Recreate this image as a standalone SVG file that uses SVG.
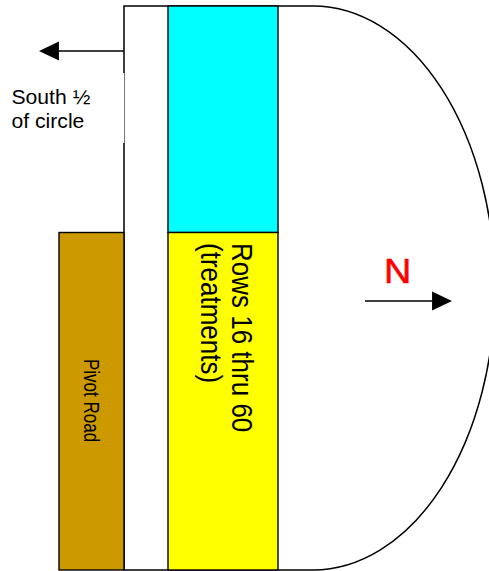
<svg xmlns="http://www.w3.org/2000/svg" width="489" height="571" viewBox="0 0 489 571">
<style>
.box{stroke:#000;stroke-width:1.4}
.ln{stroke:#000;stroke-width:1.5;fill:none}
.t{font-family:"Liberation Sans",Arial,sans-serif;fill:#000}
</style>
<defs>
<marker id="ah" markerWidth="20" markerHeight="20" refX="1" refY="10" orient="auto" markerUnits="userSpaceOnUse" viewBox="0 0 21 20">
<path d="M0,0 L21,10 L0,20 Z" fill="#000"/>
</marker>
</defs>
<rect width="489" height="571" fill="#fff"/>
<g id="half-circle">
<path class="ln" d="M124,6 H313 A182,282 0 0 1 313,570 H124 Z" fill="#fff"/>
</g>
<g id="rows-1-15">
<rect class="box" x="168" y="6" width="110" height="226.5" fill="#00FFFF"/>
</g>
<g id="rows-16-60">
<rect class="box" x="168" y="232.5" width="110" height="337.5" fill="#FFFF00"/>
<text class="t" font-size="26" transform="translate(231.5,243) rotate(90) scale(1,1.1)"><tspan x="0" y="0">Rows 16 thru 60</tspan><tspan x="0" y="27.5">(treatments)</tspan></text>
</g>
<g id="pivot-road">
<rect class="box" x="59" y="232.5" width="65" height="337.5" fill="#CC9900"/>
<text class="t" font-size="17" transform="translate(83.5,359) rotate(90) scale(1,1.25)">Pivot Road</text>
</g>
<g id="south-label">
<rect x="8" y="73" width="116.3" height="70" fill="#fff"/>
<text class="t" font-size="19.6" transform="translate(11.5,0) scale(1.08,1)"><tspan x="0" y="104">South ½</tspan><tspan x="0" y="128.5">of circle</tspan></text>
</g>
<g id="north-label">
<text class="t" font-size="35" fill="#FF0000" style="fill:#FF0000;stroke:#FF0000;stroke-width:0.6" transform="translate(384,283) scale(1.08,1)">N</text>
</g>
<g id="connectors">
<line class="ln" x1="124" y1="51" x2="58" y2="51" marker-end="url(#ah)"/>
<line class="ln" x1="365" y1="301" x2="433" y2="301" marker-end="url(#ah)"/>
</g>
</svg>
